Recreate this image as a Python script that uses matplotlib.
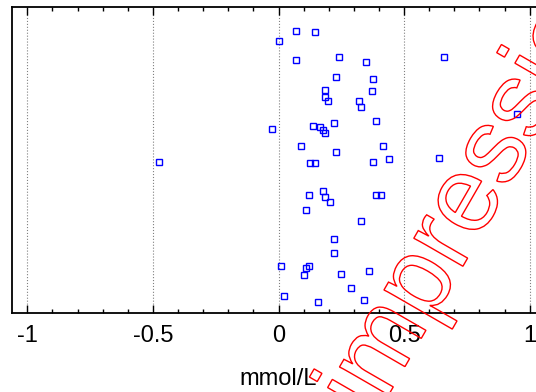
import matplotlib
matplotlib.use("Agg")
import matplotlib.pyplot as plt
from matplotlib.textpath import TextPath
from matplotlib.patches import PathPatch
from matplotlib.font_manager import FontProperties
from matplotlib.ticker import MultipleLocator
from matplotlib.transforms import Affine2D

# ------------------------------------------------------------
# datos
# ------------------------------------------------------------
x_vals = [
    0.068, 0.147, 0.000, 0.068, 0.239, 0.347, 0.227, 0.378, 0.187, 0.371,
    0.187, 0.199, 0.319, 0.327, 0.219, 0.390, -0.024, 0.139, 0.167, 0.179,
    0.187, 0.088, 0.418, 0.227, 0.438, 0.126, 0.147, 0.378, 0.657, 0.948,
    0.637, -0.474, 0.179, 0.120, 0.187, 0.207, 0.108, 0.390, 0.410, 0.327,
    0.219, 0.219, 0.008, 0.120, 0.108, 0.100, 0.247, 0.359, 0.287, 0.020,
    0.159, 0.339,
]
y_jitter = [
    0.923, 0.918, 0.890, 0.827, 0.837, 0.820, 0.771, 0.765, 0.729, 0.726,
    0.707, 0.694, 0.694, 0.673, 0.622, 0.628, 0.601, 0.611, 0.608, 0.598,
    0.588, 0.546, 0.546, 0.526, 0.503, 0.490, 0.490, 0.493, 0.837, 0.650,
    0.507, 0.493, 0.399, 0.386, 0.379, 0.363, 0.337, 0.386, 0.386, 0.301,
    0.242, 0.196, 0.154, 0.154, 0.147, 0.124, 0.127, 0.137, 0.082, 0.056,
    0.036, 0.042,
]
x_ticks = [-1, -0.5, 0, 0.5, 1]
x_tick_labels = ["-1", "-0.5", "0", "0.5", "1"]
x_label = "mmol/L"
watermark = "impression"

plt.rcParams["font.family"] = ["Liberation Sans", "DejaVu Sans"]

fig = plt.figure(figsize=(5.36, 3.92), dpi=100)
# el eje se sale por la derecha (el "1" queda cortado como en el original)
ax = fig.add_axes([12 / 536, 79 / 392, 533 / 536, 306 / 392])

ax.plot(x_vals, y_jitter, linestyle="none", marker="s", markersize=5,
        markerfacecolor="none", markeredgecolor="#0000ff", markeredgewidth=1.0)

ax.set_xlim(-1.061, 1.061)
ax.set_ylim(0, 1)
ax.set_xticks(x_ticks)
ax.set_xticklabels(x_tick_labels)
ax.xaxis.set_minor_locator(MultipleLocator(0.1))
ax.tick_params(axis="x", which="major", direction="in", top=True, length=6,
               width=1, labelsize=17, pad=9)
ax.tick_params(axis="x", which="minor", direction="in", top=True, length=3, width=1)
ax.tick_params(axis="y", left=False, labelleft=False)
ax.grid(axis="x", which="major", linestyle=":", color="#808080", linewidth=0.8)
for s in ax.spines.values():
    s.set_linewidth(1.3)
ax.set_xlabel(x_label, fontsize=17, labelpad=15)

# marca de agua en contorno rojo
tp = TextPath((0, 0), watermark, size=107, prop=FontProperties(family="Liberation Sans"))
tr = Affine2D().rotate_deg(60).translate(373, -30)
fig.patches.append(PathPatch(tr.transform_path(tp), facecolor="none", edgecolor="red",
                             linewidth=1.0, transform=None, figure=fig))

fig.savefig("out.png", dpi=100)
